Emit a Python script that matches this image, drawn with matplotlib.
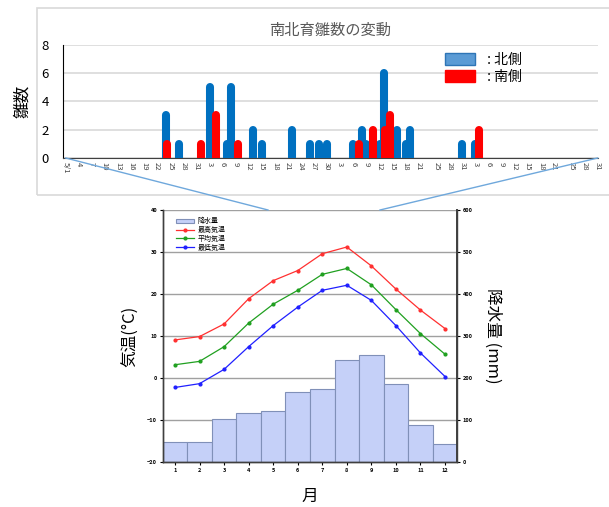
import matplotlib
matplotlib.use("Agg")
import matplotlib.pyplot as plt
from matplotlib.lines import Line2D
from matplotlib.patches import Rectangle, FancyBboxPatch

plt.rcParams['font.family'] = ['Noto Sans CJK JP', 'DejaVu Sans']

# --- 上段: 南北育雛数 (5/1 = 0 日目 ... 8/31 = 122 日目) ---
n_days = 123
tick_days = [0, 3, 6, 9, 12, 15, 18, 21, 24, 27, 30,
             33, 36, 39, 42, 45, 48, 51, 54, 57, 60,
             63, 66, 69, 72, 75, 78, 81, 85, 88, 91,
             94, 97, 100, 103, 106, 109, 112, 116, 119, 122]
tick_labels = ["5/1", "4", "7", "10", "13", "16", "19", "22", "25", "28", "31",
               "3", "6", "9", "12", "15", "18", "21", "24", "27", "30",
               "3", "6", "9", "12", "15", "18", "21", "25", "28", "31",
               "3", "6", "9", "12", "15", "18", "21", "25", "28", "31"]

north_day = [23, 26, 33, 37, 38, 43, 45, 52, 56, 58, 60, 66, 68, 69, 72, 73, 76, 78, 79, 91, 94]
north_val = [3, 1, 5, 1, 5, 2, 1, 2, 1, 1, 1, 1, 2, 1, 1, 6, 2, 1, 2, 1, 1]
south_day = [23.3, 31, 34.6, 39.6, 67.3, 70.4, 73.2, 74.5, 94.8]
south_val = [1, 1, 3, 1, 1, 2, 2, 3, 2]

# --- 下段: 雨温図 ---
months = list(range(1, 13))
rain = [48, 49, 103, 117, 121, 167, 175, 243, 256, 186, 88, 44]
t_max = [9.1, 9.9, 12.9, 18.9, 23.2, 25.6, 29.6, 31.2, 26.7, 21.2, 16.2, 11.8]
t_mean = [3.2, 4.0, 7.5, 13.1, 17.6, 20.9, 24.7, 26.1, 22.2, 16.3, 10.6, 5.7]
t_min = [-2.2, -1.3, 2.1, 7.5, 12.5, 16.9, 20.9, 22.1, 18.5, 12.5, 6.0, 0.4]

fig = plt.figure(figsize=(6.09, 5.07), dpi=100)

# 上段の枠
fig.add_artist(Rectangle((37 / 609, 1 - 195 / 507), 1.0, 187 / 507,
                         transform=fig.transFigure, fill=False,
                         edgecolor='#d9d9d9', linewidth=1.2))

ax1 = fig.add_axes([63 / 609, 1 - 157.7 / 507, 535 / 609, 112.7 / 507])
ax1.vlines(north_day, 0, north_val, colors='#0070c0', linewidth=5.8,
           capstyle='round', zorder=3)
ax1.vlines(south_day, 0, south_val, colors='#ff0000', linewidth=5.8,
           capstyle='round', zorder=4)
ax1.set_xlim(-0.6, 122.1)
ax1.set_ylim(0, 8)
ax1.set_yticks([0, 2, 4, 6, 8])
ax1.grid(axis='y', color='#d9d9d9', linewidth=1.2, zorder=0)
ax1.set_axisbelow(True)
ax1.set_xticks(tick_days)
ax1.set_xticklabels(tick_labels, rotation=-90, fontsize=5.5, color='#404040')
ax1.tick_params(axis='x', length=0, pad=3)
ax1.tick_params(axis='y', length=0, labelsize=9.5, pad=10)
for s in ['top', 'right']:
    ax1.spines[s].set_visible(False)
ax1.spines['left'].set_color('black')
ax1.spines['bottom'].set_color('#404040')
ax1.set_title("南北育雛数の変動", fontsize=11, color='#595959', pad=7)
ax1.set_ylabel("雛数", fontsize=12, labelpad=8)

h_n = FancyBboxPatch((0, 0), 1, 1, boxstyle='round,pad=0.1', facecolor='#5b9bd5', edgecolor='#2e75b6')
h_s = FancyBboxPatch((0, 0), 1, 1, boxstyle='round,pad=0.1', facecolor='#ff0000', edgecolor='#ff0000')
ax1.legend([h_n, h_s], [" : 北側", " : 南側"], loc='upper left', bbox_to_anchor=(0.69, 1.04),
           frameon=False, fontsize=10, handlelength=2.2, handleheight=0.9,
           handletextpad=0.6, labelspacing=0.2)

# 下段
ax2 = fig.add_axes([162.7 / 609, 1 - 462.3 / 507, 294.6 / 609, 252.3 / 507])
ax3 = ax2.twinx()
ax3.bar(months, rain, width=1.0, color='#c5d0f8', edgecolor='#8090b8', linewidth=0.8,
        label='降水量', zorder=2)
ax3.set_ylim(0, 600)
ax3.set_yticks(range(0, 601, 100))
ax2.set_zorder(ax3.get_zorder() + 1)
ax2.patch.set_visible(False)
ax3.grid(False)

ax2.plot(months, t_max, color='#ff3030', marker='o', markersize=2, linewidth=0.9, label='最高気温')
ax2.plot(months, t_mean, color='#20a020', marker='o', markersize=2, linewidth=0.9, label='平均気温')
ax2.plot(months, t_min, color='#2020ff', marker='o', markersize=2, linewidth=0.9, label='最低気温')
ax2.set_xlim(0.5, 12.5)
ax2.set_ylim(-20, 40)
ax2.set_yticks(range(-20, 41, 10))
ax2.set_xticks(months)
for y in range(-10, 41, 10):
    ax3.axhline((y + 20) * 10, color='#a0a0a0', linewidth=1.0, zorder=1)

for a in (ax2, ax3):
    a.tick_params(labelsize=4, length=2.5, width=0.8, pad=1.5)
    for lab in a.get_xticklabels() + a.get_yticklabels():
        lab.set_fontweight('bold')
    for s in a.spines.values():
        s.set_color('#404040')
        s.set_linewidth(1.0)
ax2.spines['top'].set_visible(False)
ax3.spines['top'].set_visible(False)
ax3.spines['right'].set_linewidth(1.4)

ax2.set_ylabel("気温(°C)", fontsize=12, labelpad=6)
ax3.set_ylabel("降水量 (mm)", fontsize=12, labelpad=8, rotation=-90, va='bottom')
ax2.set_xlabel("月", fontsize=12, labelpad=11)

hl, ll = ax2.get_legend_handles_labels()
hb, lb = ax3.get_legend_handles_labels()
ax2.legend(hb + hl, lb + ll, loc='upper left', bbox_to_anchor=(0.03, 0.99),
           frameon=False, fontsize=5, handlelength=2.6, labelspacing=0.1,
           handletextpad=0.5, borderpad=0.2)

# 拡大を示す線
fig.add_artist(Line2D([65.7 / 609, 268 / 609], [1 - 158 / 507, 1 - 210 / 507],
                      transform=fig.transFigure, color='#6fa8dc', linewidth=1.0))
fig.add_artist(Line2D([597.7 / 609, 380 / 609], [1 - 158 / 507, 1 - 210 / 507],
                      transform=fig.transFigure, color='#6fa8dc', linewidth=1.0))

fig.savefig("out.png", dpi=100)
